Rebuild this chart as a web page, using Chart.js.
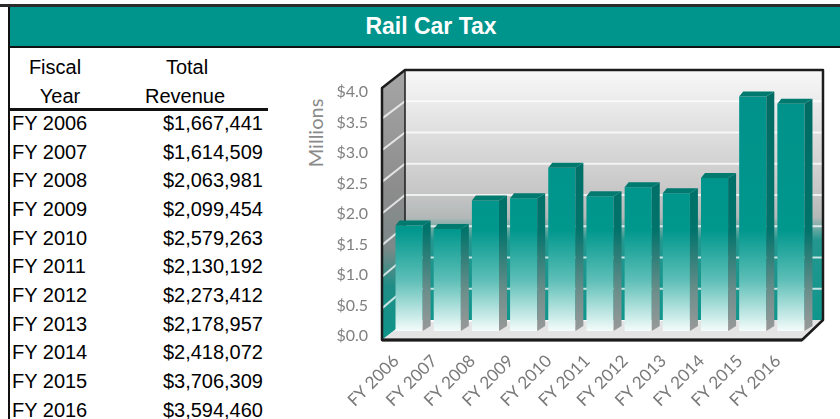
<!DOCTYPE html>
<html>
<head>
<meta charset="utf-8">
<script src="https://cdn.jsdelivr.net/npm/chart.js@4"></script>
<style>
  body { margin:0; width:840px; height:419px; background:#fff; position:relative; overflow:hidden;
         font-family:'Liberation Sans', Arial, sans-serif; }
  .abs { position:absolute; white-space:nowrap; }
  #topline { left:0; top:4px; width:840px; height:3px; background:#2b2b2b; }
  #title { left:8px; top:7px; width:832px; height:41px; background:#00958c; border-left:2px solid #111;
           border-bottom:2px solid #111; color:#fff; font-weight:bold; font-size:23px;
           display:flex; align-items:center; justify-content:center; padding-left:12px; box-sizing:border-box; }
  #leftline { left:8px; top:48px; width:2px; height:371px; background:#111; }
  #hdrline { left:10px; top:108px; width:258px; height:3px; background:#111; }
  .cell { font-size:20px; color:#000; line-height:24px; height:24px; }
  #millions { left:315px; top:133px; font-family:Lato, sans-serif; font-size:20px; color:#8a8a8a;
              transform:translate(-50%,-50%) rotate(-90deg); }
  #wrap { position:absolute; left:280px; top:50px; width:560px; height:369px; }
</style>
</head>
<body>
<div id="topline" class="abs"></div>
<div id="title" class="abs">Rail Car Tax</div>
<div id="leftline" class="abs"></div>
<div id="hdrline" class="abs"></div>
<div id="millions" class="abs">Millions</div>
<div id="tbl"></div>
<div id="wrap"><canvas id="c" width="560" height="369"></canvas></div>
<script>
const fiscalYears = ['FY 2006','FY 2007','FY 2008','FY 2009','FY 2010','FY 2011','FY 2012','FY 2013','FY 2014','FY 2015','FY 2016'];
const revenue = [1667441, 1614509, 2063981, 2099454, 2579263, 2130192, 2273412, 2178957, 2418072, 3706309, 3594460];
const axisTicks = [0, 0.5, 1, 1.5, 2, 2.5, 3, 3.5, 4];
const axisTickLabels = ['$0.0','$0.5','$1.0','$1.5','$2.0','$2.5','$3.0','$3.5','$4.0'];
const headerLeft = ['Fiscal', 'Year'];
const headerRight = ['Total', 'Revenue'];

// ---- table ----
const tbl = document.getElementById('tbl');
function addCell(text, style) {
  const d = document.createElement('div');
  d.className = 'abs cell';
  d.textContent = text;
  Object.assign(d.style, style);
  tbl.appendChild(d);
}
headerLeft.forEach((t, i) => addCell(t, {left:(i ? 60 : 55) + 'px', top:(67 + i*29 - 12) + 'px', transform:'translateX(-50%)'}));
headerRight.forEach((t, i) => addCell(t, {left:(i ? 185 : 187) + 'px', top:(67 + i*29 - 12) + 'px', transform:'translateX(-50%)'}));
fiscalYears.forEach((fy, i) => {
  const yc = 123 + i * 28.65;
  addCell(fy, {left:'12px', top:(yc - 12) + 'px'});
  addCell('$' + revenue[i].toLocaleString('en-US'), {right:(840 - 263) + 'px', top:(yc - 12) + 'px'});
});

// ---- chart ----
function frontGrad(chart) {
  const {ctx, chartArea:a} = chart;
  const g = ctx.createLinearGradient(0, a.top, 0, a.bottom);
  g.addColorStop(0, '#00918a');
  g.addColorStop(0.6, '#00978d');
  g.addColorStop(0.8, '#5ebfb7');
  g.addColorStop(1, '#f4fcfb');
  return g;
}
function sideGrad(chart) {
  const {ctx, chartArea:a} = chart;
  const g = ctx.createLinearGradient(0, a.top, 0, a.bottom);
  g.addColorStop(0, '#006a62');
  g.addColorStop(0.6, '#00736b');
  g.addColorStop(0.85, '#6e8f8c');
  g.addColorStop(1, '#999999');
  return g;
}

const threeD = {
  id: 'threeD',
  beforeDatasetsDraw(chart) {
    const {ctx, chartArea:a, scales:{y}} = chart;
    const L = a.left, R = a.right, T = a.top, B = a.bottom;
    const wT = T - 8, wB = B - 11, wL = L + 15, wR = R + 13;
    const wallY = v => wB - (B - y.getPixelForValue(v)) * (wB - wT) / (B - T);
    const frontY = v => y.getPixelForValue(v) + 9;
    ctx.save();
    let g = ctx.createLinearGradient(0, wT, 0, wB);
    g.addColorStop(0, '#f7f7f7');
    g.addColorStop(0.12, '#ececec');
    g.addColorStop(0.49, '#c6c6c6');
    g.addColorStop(0.59, '#b3b9b8');
    g.addColorStop(0.68, '#23978f');
    g.addColorStop(1, '#0f968c');
    ctx.fillStyle = g;
    ctx.fillRect(wL, wT, wR - wL, wB - wT);
    g = ctx.createLinearGradient(0, wT, 0, B + 9);
    g.addColorStop(0, '#a6a6a6');
    g.addColorStop(0.45, '#8c8c8c');
    g.addColorStop(0.66, '#7b8988');
    g.addColorStop(0.8, '#1f8e86');
    g.addColorStop(1, '#0e958b');
    ctx.fillStyle = g;
    ctx.beginPath();
    ctx.moveTo(L - 8, frontY(4) + 1);
    ctx.lineTo(wL, wT);
    ctx.lineTo(wL, wB + 2);
    ctx.lineTo(L - 8, B + 9);
    ctx.closePath();
    ctx.fill();
    ctx.strokeStyle = 'rgba(255,255,255,0.75)';
    ctx.lineWidth = 2;
    axisTicks.forEach(v => {
      if (v <= 0 || v >= 4) return;
      ctx.beginPath();
      ctx.moveTo(L - 8, frontY(v));
      ctx.lineTo(wL, wallY(v));
      ctx.lineTo(wR, wallY(v));
      ctx.stroke();
    });
    ctx.fillStyle = '#e4e4e4';
    ctx.beginPath();
    ctx.moveTo(L - 8, B + 9);
    ctx.lineTo(wL, wB + 2);
    ctx.lineTo(wR, wB);
    ctx.lineTo(R - 8, B + 9);
    ctx.closePath();
    ctx.fill();
    ctx.strokeStyle = '#1c1c1c';
    ctx.lineWidth = 2.5;
    ctx.lineJoin = 'round';
    ctx.beginPath();
    ctx.moveTo(L - 8, B + 9);
    ctx.lineTo(L - 8, frontY(4) + 1);
    ctx.lineTo(wL, wT);
    ctx.lineTo(wR, wT);
    ctx.lineTo(wR, wB);
    ctx.lineTo(R - 8, B + 9);
    ctx.closePath();
    ctx.stroke();
    ctx.lineWidth = 1.5;
    ctx.beginPath();
    ctx.moveTo(wL, wT);
    ctx.lineTo(wL, wB + 2);
    ctx.stroke();
    ctx.lineWidth = 3;
    ctx.beginPath();
    ctx.moveTo(L - 8, B + 9);
    ctx.lineTo(R - 8, B + 9);
    ctx.stroke();
    ctx.restore();
  },
  afterDatasetsDraw(chart) {
    const {ctx} = chart;
    const meta = chart.getDatasetMeta(0);
    const dx = 8, dy = -5;
    const sg = sideGrad(chart);
    ctx.save();
    meta.data.forEach(bar => {
      const {x, y, base, width} = bar.getProps(['x','y','base','width'], true);
      const l = x - width / 2, r = x + width / 2;
      ctx.fillStyle = sg;
      ctx.beginPath();
      ctx.moveTo(r, y);
      ctx.lineTo(r + dx, y + dy);
      ctx.lineTo(r + dx, base + dy);
      ctx.lineTo(r, base);
      ctx.closePath();
      ctx.fill();
      ctx.fillStyle = '#00796f';
      ctx.beginPath();
      ctx.moveTo(l, y);
      ctx.lineTo(l + dx * 0.5, y + dy);
      ctx.lineTo(r + dx, y + dy);
      ctx.lineTo(r, y);
      ctx.closePath();
      ctx.fill();
    });
    ctx.restore();
  }
};

new Chart(document.getElementById('c'), {
  type: 'bar',
  data: {
    labels: fiscalYears,
    datasets: [{
      data: revenue.map(v => v / 1e6),
      backgroundColor: c => c.chart.chartArea ? frontGrad(c.chart) : '#00958c',
      borderWidth: 0,
      barPercentage: 0.71,
      categoryPercentage: 1,
      yAxisID: 'y'
    }]
  },
  options: {
    responsive: false,
    animation: false,
    events: [],
    layout: { padding: { top: 28, right: 30, left: 0, bottom: 0 } },
    plugins: { legend: { display: false }, tooltip: { enabled: false }, title: { display: false } },
    scales: {
      x: {
        grid: { display: false, drawTicks: false },
        border: { display: false },
        ticks: { minRotation: 45, maxRotation: 45, autoSkip: false, color: '#7a7a7a',
                 font: { family: 'Lato', size: 17 }, padding: 20, labelOffset: -13 },
        afterFit: s => { s.height = 88; }
      },
      y: { display: false, min: 0, max: 4 },
      yL: {
        position: 'left',
        min: 0.084, max: 4.234,
        grid: { display: false, drawTicks: true, tickLength: 22 },
        border: { display: false },
        ticks: { color: '#808080', font: { family: 'Lato', size: 16 }, padding: 0,
                 callback: (v, i) => axisTickLabels[i] },
        afterBuildTicks: s => { s.ticks = axisTicks.map(v => ({ value: v })); },
        afterFit: s => { s.width = 110; }
      }
    }
  },
  plugins: [threeD]
});
</script>
</body>
</html>
